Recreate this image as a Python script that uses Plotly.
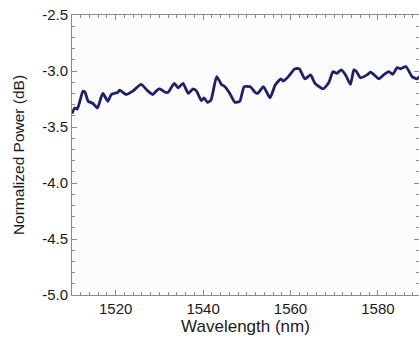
import plotly.graph_objects as go

wavelength = [1510.0, 1510.6, 1511.2, 1511.8, 1512.5, 1513.0, 1513.7, 1514.8, 1515.8, 1516.7, 1517.1,
              1518.2, 1519.0, 1520.5, 1520.9, 1522.4, 1523.9, 1525.8, 1527.4, 1528.5, 1529.5,
              1530.1, 1531.3, 1532.0, 1533.4, 1534.3, 1535.4, 1536.6, 1537.7, 1538.5, 1539.6,
              1540.2, 1541.0, 1541.8, 1543.1, 1544.2, 1545.0, 1546.1, 1547.3, 1548.4, 1549.4,
              1550.8, 1551.9, 1552.5, 1553.8, 1555.3, 1556.5, 1557.8, 1558.4, 1559.5, 1561.0,
              1562.0, 1563.3, 1564.6, 1565.6, 1567.5, 1568.8, 1569.7, 1570.6, 1571.6, 1572.6,
              1573.7, 1574.5, 1575.0, 1576.0, 1577.5, 1578.3, 1579.0, 1580.2, 1581.3, 1582.5,
              1583.4, 1584.4, 1585.2, 1586.4, 1587.8, 1588.9, 1589.5]
power_db = [-3.38, -3.33, -3.34, -3.27, -3.18, -3.19, -3.27, -3.29, -3.33, -3.23, -3.20,
            -3.27, -3.21, -3.19, -3.17, -3.21, -3.18, -3.12, -3.18, -3.21, -3.17,
            -3.16, -3.19, -3.19, -3.11, -3.15, -3.11, -3.20, -3.16, -3.18, -3.265,
            -3.24, -3.28, -3.26, -3.05, -3.12, -3.14, -3.20, -3.28, -3.27, -3.14,
            -3.14, -3.19, -3.20, -3.14, -3.24, -3.125, -3.07, -3.09, -3.05, -2.98,
            -2.98, -3.07, -3.035, -3.11, -3.16, -3.10, -3.006, -3.02, -2.99, -3.035,
            -3.12, -2.99, -3.00, -3.06, -3.035, -3.01, -3.03, -3.07, -3.035, -3.006,
            -3.03, -2.97, -2.98, -2.96, -3.05, -3.07, -3.05]

x_ticks = [1520, 1540, 1560, 1580]
y_ticks = [-5.0, -4.5, -4.0, -3.5, -3.0, -2.5]
y_tick_labels = ["-5.0", "-4.5", "-4.0", "-3.5", "-3.0", "-2.5"]

fig = go.Figure()
fig.add_trace(go.Scatter(
    x=wavelength, y=power_db, mode="lines",
    line=dict(color="#1d206b", width=2.8, shape="spline", smoothing=0.5),
    showlegend=False,
))

font = "Liberation Sans, Arial, sans-serif"
axis_common = dict(
    showline=True, linecolor="#8a8a8a", linewidth=1, mirror="allticks",
    ticks="inside", ticklen=5, tickcolor="#8a8a8a", tickwidth=1,
    showgrid=False, zeroline=False,
    tickfont=dict(family=font, size=15, color="#1a1a1a"),
)

fig.update_xaxes(
    range=[1510, 1589.4], tickvals=x_ticks,
    minor=dict(dtick=2, ticks="inside", ticklen=3, tickcolor="#8a8a8a", showgrid=False),
    title=dict(text="Wavelength (nm)", font=dict(family=font, size=17, color="#1a1a1a"), standoff=1),
    **axis_common,
)
fig.update_yaxes(
    range=[-5.0, -2.5], tickvals=y_ticks, ticktext=y_tick_labels,
    minor=dict(dtick=0.1, ticks="inside", ticklen=3, tickcolor="#8a8a8a", showgrid=False),
    title=dict(text="Normalized Power (dB)", font=dict(family=font, size=15.5, color="#1a1a1a"), standoff=13),
    **axis_common,
)

fig.update_layout(
    width=419, height=337,
    margin=dict(l=72, r=0, t=15, b=42),
    paper_bgcolor="white", plot_bgcolor="#fcfcfc",
)

fig.write_html("out.html")
